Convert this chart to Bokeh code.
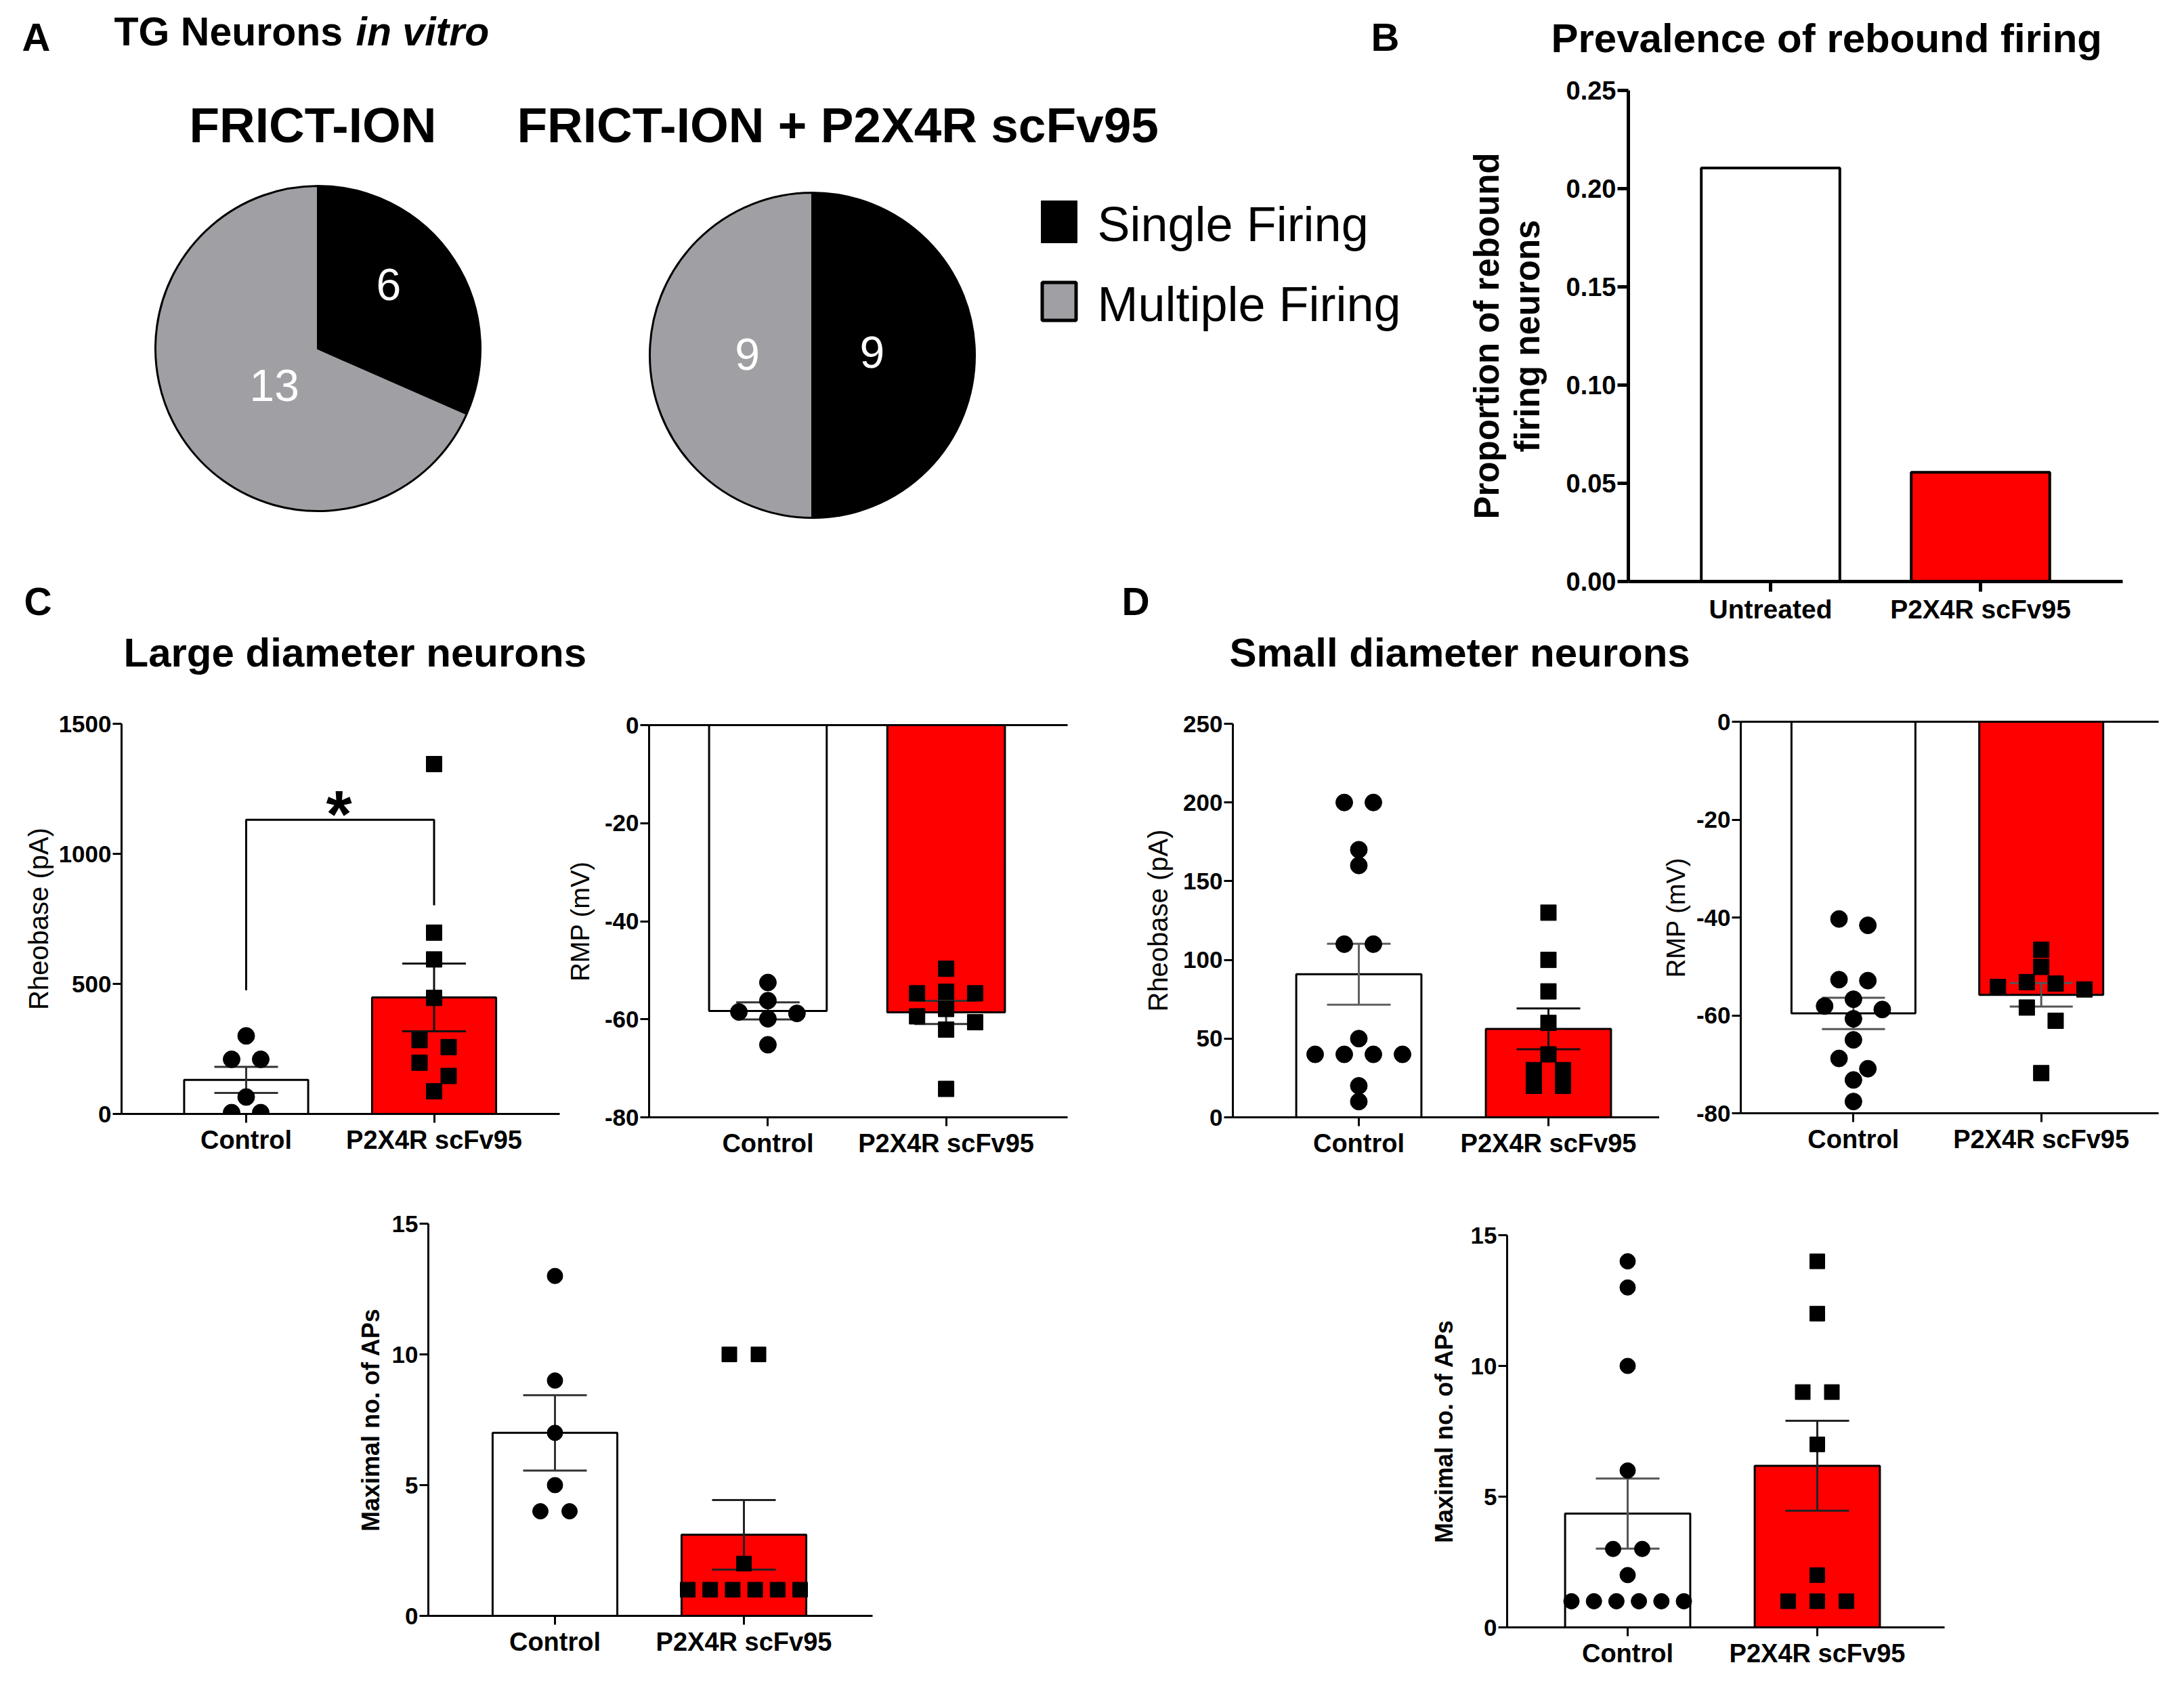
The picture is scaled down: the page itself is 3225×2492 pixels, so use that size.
import math
from bokeh.plotting import figure
from bokeh.layouts import row, column
from bokeh.models import Range1d, FixedTicker, LinearAxis, PrintfTickFormatter, Spacer, Label
from bokeh.core.properties import value
from bokeh.embed import file_html
from bokeh.resources import INLINE

FONT = "Liberation Sans"
RED = "#FF0000"
GRAY = "#A0A0A4"
BASE_SHIFT = 0.29   # empirical correction of the text glyph baseline (fraction of font size)

# ---------------------------------------------------------------- data
firing_types = ["Single Firing", "Multiple Firing"]
pie_titles = ["FRICT-ION", "FRICT-ION + P2X4R scFv95"]
frict_ion_counts = [6, 13]
frict_ion_scfv_counts = [9, 9]

rebound_groups = ["Untreated", "P2X4R scFv95"]
rebound_proportion = [0.2105, 0.0556]

groups = ["Control", "P2X4R scFv95"]

large_rheobase_control = [300, 210, 210, 65, 5, 5]
large_rheobase_scfv = [1345, 697, 594, 446, 284, 257, 197, 146, 87]
large_rheobase_mean = [131, 448]
large_rheobase_sem = [50, 130]

large_rmp_control = [-52.5, -56.2, -58.5, -58.8, -59.9, -65.2]
large_rmp_scfv = [-49.7, -54.4, -54.7, -54.7, -57.9, -59.4, -60.6, -62.1, -74.2]
large_rmp_mean = [-58.3, -58.6]
large_rmp_sem = [1.75, 2.35]

large_aps_control = [13, 9, 7, 5, 4, 4]
large_aps_scfv = [10, 10, 2, 1, 1, 1, 1, 1, 1]
large_aps_mean = [7.0, 3.1]
large_aps_sem = [1.44, 1.33]

small_rheobase_control = [200, 200, 170, 160, 110, 110, 50, 40, 40, 40, 40, 20, 10]
small_rheobase_scfv = [130, 100, 80, 60, 40, 30, 30, 20, 20]
small_rheobase_mean = [90.9, 56.2]
small_rheobase_sem = [19.4, 13.0]

small_rmp_control = [-40.3, -41.6, -52.9, -52.7, -56.7, -58.1, -58.8, -60.7,
                     -65.0, -68.8, -70.9, -73.2, -77.6]
small_rmp_scfv = [-46.6, -50.1, -53.5, -53.2, -54.2, -54.7, -58.4, -61.1, -71.8]
small_rmp_mean = [-59.6, -55.8]
small_rmp_sem = [3.2, 2.4]

small_aps_control = [14, 13, 10, 6, 3, 3, 2, 1, 1, 1, 1, 1, 1]
small_aps_scfv = [14, 12, 9, 9, 7, 2, 1, 1, 1]
small_aps_mean = [4.35, 6.18]
small_aps_sem = [1.34, 1.72]


# ---------------------------------------------------------------- helpers
def base_fig(w, h, xr, yr, borders, axes=True):
    kw = dict(width=w, height=h, x_range=Range1d(*xr), y_range=Range1d(*yr),
              output_backend="svg", toolbar_location=None,
              min_border_left=borders[0], min_border_right=borders[1],
              min_border_top=borders[2], min_border_bottom=borders[3])
    if not axes:
        kw.update(x_axis_type=None, y_axis_type=None)
    p = figure(**kw)
    p.title = None
    p.outline_line_color = None
    p.grid.visible = False
    p.background_fill_color = "white"
    p.border_fill_color = "white"
    return p


def text_fig(x0, y0, w, h):
    # data coordinates equal page pixels (y negated so it grows upward)
    return base_fig(w, h, (x0, x0 + w), (-(y0 + h), -y0), (0, 0, 0, 0), axes=False)


def put_text(p, x, y, txt, size, style="bold", align="left", color="black"):
    yy = y - BASE_SHIFT * size
    p.text(x=[x], y=[-yy], text=[txt], text_font=value(FONT),
           text_font_size=value(f"{size}px"), text_font_style=value(style),
           text_align=value(align), text_baseline=value("alphabetic"),
           text_color=color)


def style_axis(ax, tick_len, lw, font_size):
    ax.axis_line_width = lw
    ax.axis_line_color = "black"
    ax.major_tick_line_width = lw
    ax.major_tick_line_color = "black"
    ax.major_tick_in = 0
    ax.major_tick_out = tick_len
    ax.minor_tick_line_color = None
    ax.major_label_text_font = FONT
    ax.major_label_text_font_size = f"{font_size}px"
    ax.major_label_text_font_style = "bold"
    ax.major_label_text_color = "black"
    ax.major_label_standoff = 2


def swarm(vals, ppy, ppx, tol_px=21.5, sep_px=43.0, span_px=166.0):
    """GraphPad-like horizontal spreading of points that share a row."""
    n = len(vals)
    order = sorted(range(n), key=lambda i: -vals[i])
    rows = []
    for i in order:
        if rows and (vals[rows[-1][0]] - vals[i]) * ppy < tol_px:
            rows[-1].append(i)
        else:
            rows.append([i])
    off = [0.0] * n
    for r in rows:
        m = len(r)
        if m == 1:
            continue
        sep = min(sep_px, span_px / (m - 1))
        if m % 2:
            slots = [0] + [s for k in range(1, m // 2 + 1) for s in (-k, k)]
        else:
            slots = [s for k in range(m // 2) for s in (-(k + 0.5), k + 0.5)]
        for i, s in zip(r, slots):
            off[i] = s * sep / ppx
    return off


def make_chart(sp, cats, means, sems=None, ctrl=None, scfv=None):
    x0, x1, y0, y1 = sp["fig"]
    L, R, T, B = sp["frame"]
    c1, c2 = sp["centers"]
    u = c2 - c1
    xr = (1 - (c1 - L) / u, 2 + (R - c2) / u)
    ylo, yhi = sp["yr"]
    p = base_fig(x1 - x0, y1 - y0, xr, (ylo, yhi), (L - x0, x1 - R, T - y0, y1 - B))
    ppy = (B - T) / (yhi - ylo)
    xs = [1, 2]
    lw = sp.get("lw", 3)
    if sp.get("hang"):
        p.vbar(x=xs, width=0.66, top=[0, 0], bottom=means, fill_color=["white", RED],
               line_color="black", line_width=sp.get("bar_lw", 3))
    else:
        p.vbar(x=xs, width=0.66, top=means, bottom=[0, 0], fill_color=["white", RED],
               line_color="black", line_width=sp.get("bar_lw", 3))

    if sems is not None:
        cap = 47.0 / u
        for i in range(2):
            m, s = means[i], sems[i]
            p.segment(x0=[xs[i], xs[i] - cap, xs[i] - cap],
                      y0=[m - s, m - s, m + s],
                      x1=[xs[i], xs[i] + cap, xs[i] + cap],
                      y1=[m + s, m - s, m + s],
                      line_color=sp["err_colors"][i], line_width=3)

    if sp.get("bracket"):
        bl, bt, br = sp["bracket"]
        p.line(x=[1, 1, 2, 2], y=[bl, bt, bt, br], line_color="black", line_width=3)

    if ctrl is not None:
        ms_c, ms_s = sp["msize"]
        oc = swarm(ctrl, ppy, u, span_px=sp.get("span", 166))
        p.circle(x=[1 + o for o in oc], y=ctrl, radius=ms_c / 2.0,
                 radius_units="screen", fill_color="black", line_color="black")
        osv = swarm(scfv, ppy, u, span_px=sp.get("span", 166))
        p.rect(x=[2 + o for o in osv], y=scfv, width=ms_s, height=ms_s,
               width_units="screen", height_units="screen",
               fill_color="black", line_color="black")

    if sp.get("star"):
        sx_, sy_pix, fs = sp["star"]
        sy_val = ylo + (B - (sy_pix - BASE_SHIFT * fs)) / ppy
        p.add_layout(Label(x=sx_, y=sy_val, x_units="data", y_units="data", text="*",
                           text_font=FONT, text_font_size=f"{fs}px",
                           text_font_style="bold", text_align="center",
                           text_baseline="alphabetic", text_color="black"))

    xa = p.xaxis[0]
    style_axis(xa, sp.get("xtick", 13), lw, sp["cat_font"])
    xa.ticker = FixedTicker(ticks=xs)
    xa.major_label_overrides = {1: cats[0], 2: cats[1]}
    xa.major_label_standoff = 4

    ya = p.yaxis[0]
    style_axis(ya, sp.get("ytick", 13), lw, sp["tick_font"])
    ya.ticker = FixedTicker(ticks=sp["yticks"])
    ya.formatter = PrintfTickFormatter(format=sp.get("fmt", "%d"))
    ya.axis_label = sp["ylabel"]
    ya.axis_label_text_font = FONT
    ya.axis_label_text_font_size = f"{sp['label_font']}px"
    ya.axis_label_text_font_style = sp["label_style"]
    ya.axis_label_text_color = "black"
    ya.axis_label_standoff = sp.get("lab_standoff", 14)
    if sp.get("label_lh"):
        ya.axis_label_text_line_height = sp["label_lh"]

    if sp.get("hang"):
        top = LinearAxis(ticker=FixedTicker(ticks=xs), axis_line_width=lw,
                         axis_line_color="black", major_tick_line_color=None,
                         minor_tick_line_color=None, major_label_text_alpha=0.0,
                         major_label_text_font_size="10px")
        p.add_layout(top, "above")
    return p


# ---------------------------------------------------------------- panel A (pies + letters)
figA = text_fig(8, 8, 2100, 924)


def pie(p, cx, cy, r, counts, label_angles, label_radii, label_size=66):
    total = float(sum(counts))
    f = counts[0] / total
    a0 = 90.0 - 360.0 * f
    p.wedge(x=[cx], y=[-cy], radius=r, start_angle=math.radians(90.0),
            end_angle=math.radians(90.0 + 360.0 * (1 - f)), direction="anticlock",
            fill_color=GRAY, line_color="black", line_width=3)
    p.wedge(x=[cx], y=[-cy], radius=r, start_angle=math.radians(a0),
            end_angle=math.radians(90.0), direction="anticlock",
            fill_color="black", line_color="black", line_width=3)
    for cnt, ang, rf in zip(counts, label_angles, label_radii):
        lx = cx + rf * r * math.cos(math.radians(ang))
        ly = cy - rf * r * math.sin(math.radians(ang))
        put_text(p, lx, ly + 0.358 * label_size, str(cnt), label_size,
                 style="normal", align="center", color="white")


pie(figA, 477, 522, 240, frict_ion_counts, [43.6, 218.0], [0.60, 0.34])
pie(figA, 1207, 532, 240, frict_ion_scfv_counts, [5.8, 176.4], [0.37, 0.40])

put_text(figA, 40, 79, "A", 58)
put_text(figA, 176, 72, "TG Neurons", 59)
put_text(figA, 533, 72, "in vitro", 59, style="bold italic")
put_text(figA, 287, 213, pie_titles[0], 73)
put_text(figA, 771, 213, pie_titles[1], 73)
put_text(figA, 2032, 79, "B", 58)
put_text(figA, 43, 912, "C", 57)
put_text(figA, 1664, 912, "D", 57)

# legend
figA.rect(x=[1571.5], y=[-335], width=53, height=62, fill_color="black", line_color="black")
figA.rect(x=[1571.5], y=[-452.5], width=50, height=56, fill_color=GRAY,
          line_color="black", line_width=5)
put_text(figA, 1628, 359, firing_types[0], 72, style="normal")
put_text(figA, 1628, 477, firing_types[1], 72, style="normal")

# ---------------------------------------------------------------- panel B
figBt = text_fig(2108, 8, 1109, 102)
put_text(figBt, 2298, 81, "Prevalence of rebound firing", 60)

specB = dict(fig=(2108, 3217, 110, 932), frame=(2412, 3142, 141, 866),
             centers=(2622, 2932), yr=(0, 0.25),
             yticks=[0, 0.05, 0.10, 0.15, 0.20, 0.25], fmt="%.2f",
             ylabel="Proportion of rebound\nfiring neurons", label_font=51,
             label_style="bold", lab_standoff=26, label_lh=1.05,
             tick_font=38, cat_font=39, lw=5, bar_lw=4, ytick=16, xtick=15)
figB = make_chart(specB, rebound_groups, rebound_proportion)

# ---------------------------------------------------------------- mid titles
band = text_fig(8, 932, 3209, 108)
put_text(band, 190, 988, "Large diameter neurons", 60)
put_text(band, 1823, 988, "Small diameter neurons", 60)

# ---------------------------------------------------------------- panels C / D
common = dict(tick_font=35, cat_font=38, msize=(25, 23))
R2 = (1040, 1730)

specC1 = dict(common, fig=(8, 840) + R2, frame=(187, 834, 1076, 1652),
              centers=(371, 648.5), yr=(0, 1500), yticks=[0, 500, 1000, 1500],
              ylabel="Rheobase (pA)", label_font=40, label_style="normal",
              lab_standoff=5, err_colors=("#333333", "#111111"),
              bracket=(475, 1131, 802), star=(1.494, 1238, 98))
specC2 = dict(common, fig=(840, 1650) + R2, frame=(964, 1584, 1078, 1657),
              centers=(1140, 1404), yr=(-80, 0), yticks=[-80, -60, -40, -20, 0],
              ylabel="RMP (mV)", label_font=38, label_style="normal",
              lab_standoff=12, err_colors=("#333333", "#333333"), hang=True)
specD1 = dict(common, fig=(1650, 2458) + R2, frame=(1828, 2458, 1076, 1657),
              centers=(2014, 2294), yr=(0, 250), yticks=[0, 50, 100, 150, 200, 250],
              ylabel="Rheobase (pA)", label_font=40, label_style="normal",
              lab_standoff=12, err_colors=("#606060", "#111111"))
specD2 = dict(common, fig=(2458, 3217) + R2, frame=(2572, 3195, 1073, 1651),
              centers=(2740, 3020), yr=(-80, 0), yticks=[-80, -60, -40, -20, 0],
              ylabel="RMP (mV)", label_font=38, label_style="normal",
              lab_standoff=6, err_colors=("#555555", "#555555"), hang=True)
specC3 = dict(common, fig=(520, 1340, 1730, 2484), frame=(640, 1296, 1814, 2393),
              centers=(827, 1106), yr=(0, 15), yticks=[0, 5, 10, 15],
              ylabel="Maximal no. of APs", label_font=36, label_style="bold",
              lab_standoff=8, err_colors=("#333333", "#222222"), msize=(23, 22))
specD3 = dict(common, fig=(2100, 2940, 1730, 2484), frame=(2233, 2879, 1831, 2410),
              centers=(2411, 2691), yr=(0, 15), yticks=[0, 5, 10, 15],
              ylabel="Maximal no. of APs", label_font=36, label_style="bold",
              lab_standoff=16, err_colors=("#555555", "#222222"), msize=(23, 22))

c1 = make_chart(specC1, groups, large_rheobase_mean, large_rheobase_sem,
                large_rheobase_control, large_rheobase_scfv)
c2 = make_chart(specC2, groups, large_rmp_mean, large_rmp_sem,
                large_rmp_control, large_rmp_scfv)
d1 = make_chart(specD1, groups, small_rheobase_mean, small_rheobase_sem,
                small_rheobase_control, small_rheobase_scfv)
d2 = make_chart(specD2, groups, small_rmp_mean, small_rmp_sem,
                small_rmp_control, small_rmp_scfv)
c3 = make_chart(specC3, groups, large_aps_mean, large_aps_sem,
                large_aps_control, large_aps_scfv)
d3 = make_chart(specD3, groups, small_aps_mean, small_aps_sem,
                small_aps_control, small_aps_scfv)

# every plot sits in its own one-child column so that rows/columns do not align frames
wrap = lambda fig: column(fig)

layout = column(
    row(figA, column(wrap(figBt), wrap(figB))),
    band,
    row(wrap(c1), wrap(c2), wrap(d1), wrap(d2)),
    row(Spacer(width=512, height=754), wrap(c3), Spacer(width=760, height=754), wrap(d3)),
)

open("out.html", "w").write(file_html(layout, INLINE))
